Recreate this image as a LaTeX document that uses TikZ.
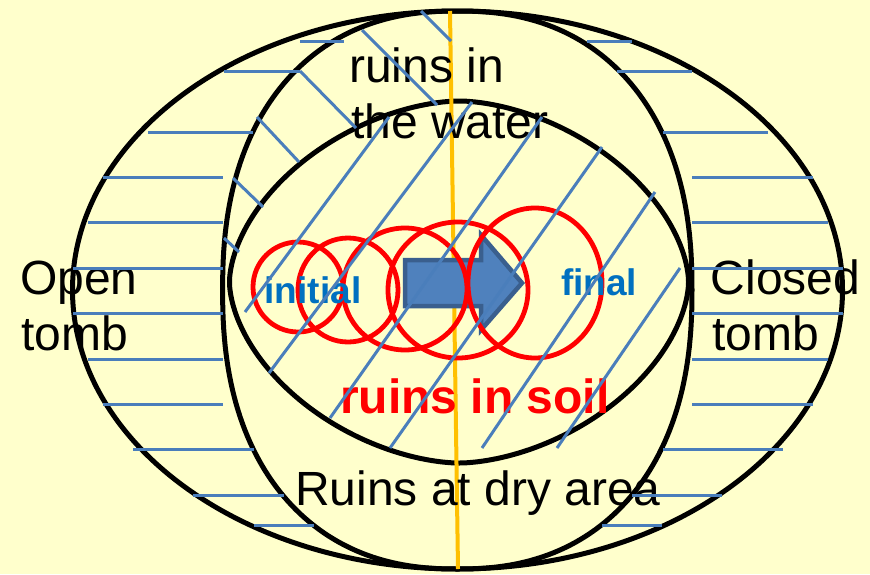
\documentclass[tikz,border=0pt]{standalone}
\usepackage{fontspec}
\setmainfont{Liberation Sans}
\definecolor{bg}{HTML}{FFFFCC}
\definecolor{hatch}{RGB}{74,126,187}
\definecolor{txtblue}{HTML}{0070C0}
\definecolor{goldline}{HTML}{FFC000}
\definecolor{arrowfill}{HTML}{4F81BD}
\definecolor{arrowedge}{HTML}{3A5F8E}
\begin{document}
\begin{tikzpicture}[x=1pt,y=-1pt,
  zone/.style={draw=black,line width=5pt,line join=round},
  hatchline/.style={draw=hatch,line width=3pt},
  ring/.style={draw=red,line width=4.8pt},
  axisline/.style={draw=goldline,line width=4pt},
  blockarrow/.style={draw=arrowedge,fill=arrowfill,line width=4.5pt,line join=miter},
  lbl/.style={anchor=base west,inner sep=0pt,font=\fontsize{48}{57}\selectfont},
  boldlbl/.style={anchor=base west,inner sep=0pt,font=\fontsize{48}{57}\selectfont\bfseries,text=red},
  smalllbl/.style={anchor=base west,inner sep=0pt,font=\fontsize{37}{44}\selectfont\bfseries,text=txtblue}
]
\fill[bg] (0,0) rectangle (870,574);
\useasboundingbox (0,0) rectangle (870,574);

% outer ellipse
\draw[zone] (457.5,290) ellipse [x radius=385pt, y radius=279pt];
% middle shape
\draw[zone] plot[domain=0:360, samples=241]
  ({457.3+234.7*cos(\x)*(abs(cos(\x))+0.00001)^(-0.13)},
   {290+279*sin(\x)*(abs(sin(\x))+0.00001)^(-0.13)}) -- cycle;
% inner shape
\draw[zone] plot[domain=0:360, samples=241]
  ({459+229.5*cos(\x)*(abs(cos(\x))+0.00001)^(0.1429)},
   {282+181*sin(\x)*(abs(sin(\x))+0.00001)^(0.1429)}) -- cycle;

% vertical yellow line
\coordinate (ytop) at (450,11);
\coordinate (ybot) at (458,569);
\draw[axisline] (ytop) -- (ybot);

% block arrow
\draw[blockarrow] (405,260) -- (481,260) -- (481,235) -- (522,283) -- (481,330) -- (481,306) -- (405,306) -- cycle;

% red circles
\draw[ring] (298,287) ellipse [x radius=45pt, y radius=45pt];
\draw[ring] (348,290) ellipse [x radius=50pt, y radius=52pt];
\draw[ring] (405,289) ellipse [x radius=62pt, y radius=61pt];
\draw[ring] (458,290) ellipse [x radius=70pt, y radius=68pt];
\draw[ring] (535,283) ellipse [x radius=67pt, y radius=75pt];

% labels
\node[lbl] (w1) at (349,82) {ruins in};
\node[lbl] (w2) at (351,138) {the water};
\node[lbl] (o1) at (20,294) {Open};
\node[lbl] (o2) at (21,350) {tomb};
\node[lbl] (c1) at (710.5,294) {Closed};
\node[lbl] (c2) at (712,350) {tomb};
\node[boldlbl] (soil) at (340,413) {ruins in soil};
\node[lbl] (dry) at (295,505) {Ruins at dry area};
\node[smalllbl] (ini) at (264.5,303) {initial};
\node[smalllbl] (fin) at (561,295.5) {final};

% horizontal hatching, left band
\foreach \y/\a/\b in {41/300/344, 71/224/300, 132/148/253, 177/103/223, 222/88/223,
  268/73/223, 313/73/223, 359/88/223, 404/103/223, 449/133/254, 495/193/284, 525/254/314}
  \draw[hatchline] (\a,\y) -- (\b,\y);
% horizontal hatching, right band
\foreach \y/\a/\b in {41/587/632, 71/617/692, 132/663/768, 177/692/813, 222/692/828,
  268/692/843, 313/692/843, 359/692/828, 404/692/813, 449/663/783, 495/632/722, 525/602/662}
  \draw[hatchline] (\a,\y) -- (\b,\y);
% diagonal hatching, water band
\foreach \a/\b/\c/\d in {421/11/451/41, 362/30/437/105, 300/71/356/128, 257/117/299/162,
  233/178/263/207, 224/238/239/252}
  \draw[hatchline] (\a,\b) -- (\c,\d);
% diagonal hatching, soil
\foreach \a/\b/\c/\d in {389/117/245/312, 472/102/269/373, 542/117/330/418,
  602/147/390/448, 655/192/482/448, 680/268/557/448}
  \draw[hatchline] (\a,\b) -- (\c,\d);
\end{tikzpicture}
\end{document}
